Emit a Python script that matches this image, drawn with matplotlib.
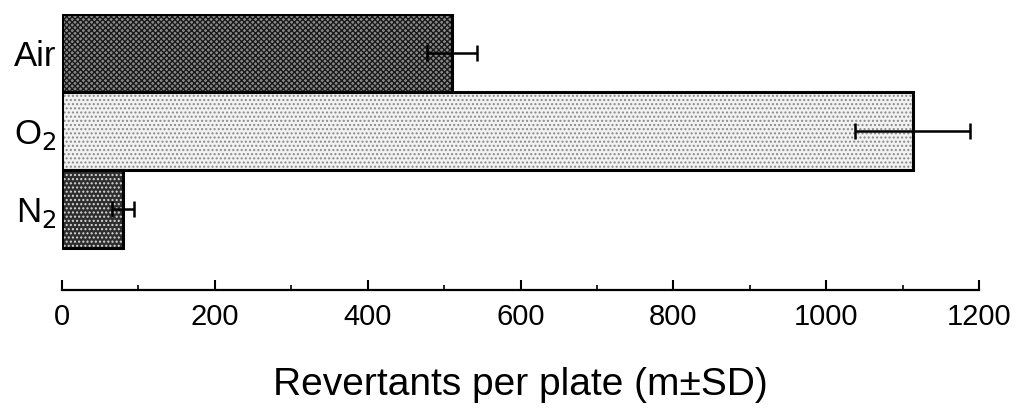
import matplotlib
matplotlib.use("Agg")
import matplotlib.pyplot as plt
import numpy as np
from matplotlib.ticker import MultipleLocator

# revertants per plate, mean and SD
gases = ["Air", "O$_2$", "N$_2$"]
means = [510, 1113, 80]
sds = [33, 75, 14]

# look of each bar: face, hatch colour, hatch pattern
faces = ["#8a8a8a", "#f2f2f2", "#2e2e2e"]
hatch_cols = ["#1a1a1a", "#8a8a8a", "#d8d8d8"]
hatches = ["xxxxxx", "....", "...."]

plt.rcParams['font.family'] = ['Liberation Sans', 'DejaVu Sans']
plt.rcParams['hatch.linewidth'] = 1.0

fig = plt.figure(figsize=(10.16, 4.11), dpi=100)
ax = fig.add_axes([62 / 1016, (411 - 290) / 411, (979 - 62) / 1016, (290 - 14) / 411])

y = np.arange(len(gases))
for i in range(len(gases)):
    # hatch first (colour comes from edgecolor), then outline on top
    ax.barh(y[i], means[i], height=1.0, color=faces[i], edgecolor=hatch_cols[i],
            hatch=hatches[i], linewidth=0, zorder=2)
    ax.barh(y[i], means[i], height=1.0, facecolor="none", edgecolor="black",
            linewidth=2.2, zorder=3)

ax.errorbar(means, y, xerr=sds, fmt="none", ecolor="black", elinewidth=1.8,
            capsize=6, capthick=1.8, zorder=4)

ax.set_xlim(0, 1200)
ax.set_ylim(3.04, -0.5)
ax.set_yticks(y)
ax.set_yticklabels(gases, fontsize=25)
ax.tick_params(axis="y", length=0, pad=4)

ax.xaxis.set_major_locator(MultipleLocator(200))
ax.xaxis.set_minor_locator(MultipleLocator(100))
ax.tick_params(axis="x", which="major", direction="in", length=7, width=1.5,
               labelsize=21, pad=9)
ax.tick_params(axis="x", which="minor", direction="in", length=3.5, width=1.2)

for side in ["left", "top", "right"]:
    ax.spines[side].set_visible(False)
ax.spines["bottom"].set_linewidth(1.6)

ax.set_xlabel("Revertants per plate (m\u00b1SD)", fontsize=28, labelpad=26)

fig.savefig("out.png", dpi=100)
